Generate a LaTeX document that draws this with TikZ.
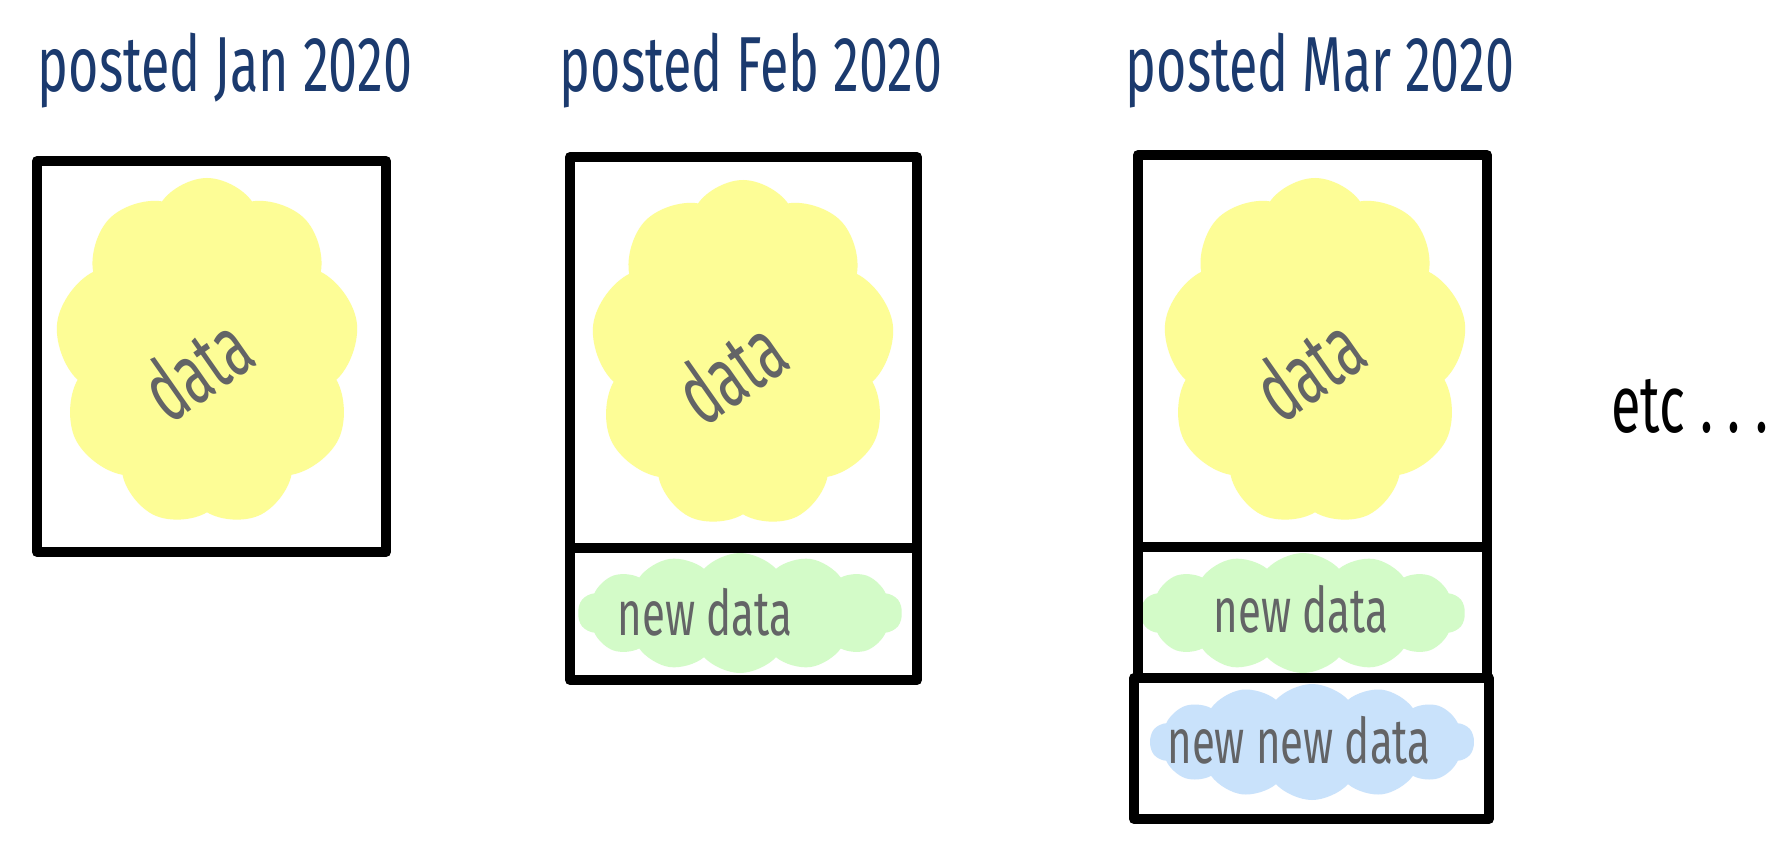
\documentclass[tikz,border=0pt]{standalone}
\usepackage{fontspec}
\setmainfont{Fira Sans}
\usetikzlibrary{shapes.symbols}
\definecolor{inkblue}{HTML}{1B3A6E}
\definecolor{inkgray}{HTML}{636466}
\definecolor{olddata}{HTML}{FDFD96}
\definecolor{newdata}{HTML}{D3FBC8}
\definecolor{newnewdata}{HTML}{C9E2FB}
\tikzstyle{frame} = [line width=5pt,line join=round,line cap=round]
\tikzstyle{blob} = [cloud,cloud ignores aspect,inner sep=0pt,draw=none]
\tikzstyle{bigblob} = [blob,cloud puffs=9,cloud puff arc=110,fill=olddata,minimum width=152pt,minimum height=174pt]
\tikzstyle{flatblob} = [blob,cloud puffs=14,cloud puff arc=95,minimum width=162pt,minimum height=60pt]
\tikzstyle{title} = [text=inkblue,font=\fontsize{26}{30}\selectfont,yscale=1.5,anchor=base]
\tikzstyle{scrawl} = [text=inkgray,font=\fontsize{21}{25}\selectfont,yscale=1.5,anchor=base]
\tikzstyle{tilted} = [text=inkgray,font=\fontsize{27}{30}\selectfont,rotate=35,yscale=1.6]

\begin{document}
\begin{tikzpicture}[x=0.5pt,y=-0.5pt]
    \fill[white] (0,0) rectangle (1791,840);
    \useasboundingbox (0,0) rectangle (1791,840);
    % titles
    \node (t-jan) [title] at (225,91) {posted Jan 2020};
    \node (t-feb) [title] at (751,91) {posted Feb 2020};
    \node (t-mar) [title] at (1320,91) {posted Mar 2020};
    % blobs
    \node (c-jan) [bigblob] at (207,352) {};
    \node (c-feb) [bigblob] at (743,354) {};
    \node (c-mar) [bigblob] at (1315,352) {};
    \node (c-febnew) [flatblob,fill=newdata] at (740,613) {};
    \node (c-marnew) [flatblob,fill=newdata] at (1303,613) {};
    \node (c-marnewnew) [flatblob,fill=newnewdata,minimum height=58pt] at (1312,742) {};
    % frames
    \draw [frame] (37,161) rectangle (386,552);
    \draw [frame] (570,157) rectangle (917,548);
    \draw [frame] (570,548) rectangle (917,680);
    \draw [frame] (1138,155) rectangle (1487,547);
    \draw [frame] (1138,547) rectangle (1487,678);
    \draw [frame] (1134,678) rectangle (1489,819);
    % labels
    \node (d-jan) [tilted] at (196,368) {data};
    \node (d-feb) [tilted] at (730,371) {data};
    \node (d-mar) [tilted] at (1308,368) {data};
    \node (n-feb) [scrawl] at (705,635) {new data};
    \node (n-mar) [scrawl] at (1301,632) {new data};
    \node (nn-mar) [scrawl] at (1299,763) {new new data};
    \node (etc) [font=\fontsize{27}{30}\selectfont,yscale=1.5,anchor=base] at (1690,432) {etc\;.\;.\;.};
\end{tikzpicture}
\end{document}
